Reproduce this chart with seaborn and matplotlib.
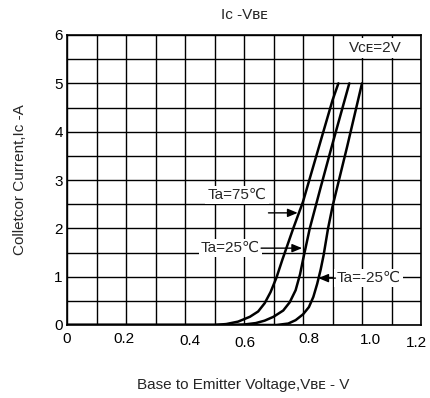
import matplotlib
matplotlib.use("Agg")
import matplotlib.pyplot as plt
import matplotlib.transforms as mtransforms
import seaborn as sns
import pandas as pd
import numpy as np

# ---- data ----
v_75 = [0.0, 0.50, 0.54, 0.58, 0.62, 0.648, 0.67, 0.69, 0.71, 0.73, 0.767, 0.80, 0.85, 0.90, 0.92]
i_75 = [0.0, 0.0, 0.02, 0.07, 0.17, 0.28, 0.45, 0.68, 0.98, 1.35, 2.0, 2.55, 3.6, 4.65, 5.0]
v_25 = [0.0, 0.56, 0.60, 0.64, 0.67, 0.70, 0.733, 0.755, 0.775, 0.79, 0.80, 0.823, 0.86, 0.90, 0.957]
i_25 = [0.0, 0.0, 0.01, 0.04, 0.09, 0.17, 0.30, 0.47, 0.72, 1.05, 1.35, 2.0, 2.85, 3.75, 5.0]
v_m25 = [0.0, 0.71, 0.75, 0.775, 0.80, 0.82, 0.835, 0.848, 0.86, 0.87, 0.885, 0.90, 0.95, 1.0]
i_m25 = [0.0, 0.0, 0.03, 0.10, 0.22, 0.37, 0.58, 0.85, 1.15, 1.45, 2.0, 2.45, 3.7, 5.0]
series_names = ["Ta=75\u2103", "Ta=25\u2103", "Ta=-25\u2103"]
x_ticks = [0.0, 0.2, 0.4, 0.6, 0.8, 1.0, 1.2]
x_tick_labels = ["0", "0.2", "0.4", "0.6", "0.8", "1.0", "1.2"]
y_ticks = [0, 1, 2, 3, 4, 5, 6]

df = pd.concat([
    pd.DataFrame({"V": v_75, "I": i_75, "Ta": series_names[0]}),
    pd.DataFrame({"V": v_25, "I": i_25, "Ta": series_names[1]}),
    pd.DataFrame({"V": v_m25, "I": i_m25, "Ta": series_names[2]}),
], ignore_index=True)

sns.set_style("white")
plt.rcParams["font.family"] = ["Liberation Sans", "DejaVu Sans"]
FS = 11

fig = plt.figure(figsize=(4.30, 3.98), dpi=100)
ax = fig.add_axes([67 / 430, 1 - 325 / 398, (421 - 67) / 430, (325 - 35) / 398])

# grid
ax.set_xlim(0, 1.2)
ax.set_ylim(0, 6)
ax.set_xticks(x_ticks)
ax.set_xticklabels(x_tick_labels)
ax.set_xticks(np.arange(0.1, 1.2, 0.2), minor=True)
ax.set_yticks(y_ticks)
ax.set_yticks(np.arange(0.5, 6, 1.0), minor=True)
ax.grid(True, which="both", color="black", linewidth=1.0)
ax.set_axisbelow(True)
ax.tick_params(which="both", length=0, labelsize=FS, colors="black")
ax.tick_params(axis="x", pad=5)
ax.tick_params(axis="y", pad=3)
for s in ax.spines.values():
    s.set_visible(True)
    s.set_color("black")
    s.set_linewidth(1.2)

sns.lineplot(data=df, x="V", y="I", hue="Ta", units="Ta", estimator=None,
             sort=False, palette=["black"] * 3, linewidth=1.8, legend=False, ax=ax)

# small per-label placement quirks of the original (pixels: dx right, dy down)
label_shift = {"0": (0, 0), "0.2": (-2, 0), "0.4": (5, 2), "0.6": (1, 4),
               "0.8": (6, 0), "1.0": (8, 1), "1.2": (-5, 4)}
for lab in ax.get_xticklabels():
    dx, dy = label_shift.get(lab.get_text(), (0, 0))
    lab.set_transform(lab.get_transform() +
                      mtransforms.ScaledTranslation(dx / 100, -dy / 100, fig.dpi_scale_trans))

box = dict(facecolor="white", edgecolor="none", pad=1.5)
ax.text(0.576, 2.69, series_names[0], ha="center", va="center", fontsize=FS, bbox=box)
ax.text(0.655, 1.59, series_names[1], ha="right", va="center", fontsize=FS, bbox=box)
ax.text(0.913, 0.97, series_names[2], ha="left", va="center", fontsize=FS, bbox=box)
ax.text(1.046, 5.73, "V\u1d04\u1d07=2V", ha="center", va="center", fontsize=FS,
        bbox=dict(facecolor="white", edgecolor="none", pad=2.0))

arrow = dict(arrowstyle="-|>,head_length=0.6,head_width=0.25", color="black", lw=1.0,
             shrinkA=0, shrinkB=0)
ax.annotate("", xy=(0.782, 2.32), xytext=(0.683, 2.32), arrowprops=arrow)
ax.annotate("", xy=(0.797, 1.59), xytext=(0.658, 1.59), arrowprops=arrow)
ax.annotate("", xy=(0.852, 0.97), xytext=(0.91, 0.97), arrowprops=arrow)

ax.set_xlabel("")
ax.set_ylabel("")
fig.text(244 / 430, 1 - 15 / 398, "Ic -V\u0299\u1d07", ha="center", va="center", fontsize=FS)
fig.text(243 / 430, 1 - 385 / 398, "Base to Emitter Voltage,V\u0299\u1d07 - V",
         ha="center", va="center", fontsize=FS)
fig.text(20 / 430, 1 - 180 / 398, "Colletcor Current,Ic -A", ha="center", va="center",
         rotation=90, fontsize=FS)

fig.savefig("out.png", dpi=100, facecolor="white")
